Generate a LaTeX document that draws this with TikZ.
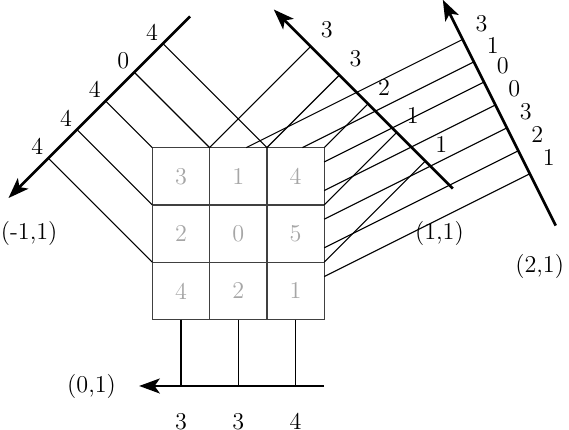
\documentclass[tikz,border=0pt]{standalone}
\usetikzlibrary{arrows.meta}
\tikzset{
	gridline/.style={black!75, line width=0.6pt},
	projline/.style={black, line width=0.55pt},
	projaxis/.style={black, line width=1.3pt, -{Stealth[length=3.6mm, width=2.6mm, inset=0.9mm]}},
	cellval/.style={black!35, font=\large},
	projval/.style={black, font=\large},
}
\begin{document}
\begin{tikzpicture}
		\useasboundingbox (-2.658, -1.911) rectangle (7.272, 5.576);
		\pgfmathsetmacro{\ma}{4.63}
		\pgfmathsetmacro{\pa}{7.53}
		\pgfmathsetmacro{\qa}{15.72}
		% grid with its values
		\draw[gridline] (0, 0) grid (3, 3);
		\foreach \v [count=\i from 0] in {4, 2, 1, 2, 0, 5, 3, 1, 4} {
			\pgfmathtruncatemacro{\cx}{mod(\i, 3)}
			\pgfmathtruncatemacro{\ry}{div(\i, 3)}
			\node[cellval] (v\i) at (\cx+0.5, \ry+0.5) {\v};
		}
		% direction (-1,1)
		\foreach \sx/\sy/\lab [count=\k] in {2/3/4, 1/3/0, 0/3/4, 0/2/4, 0/1/4} {
			\pgfmathsetmacro{\cc}{\sx+\sy}
			\coordinate (ms\k) at (\sx, \sy);
			\coordinate (me\k) at ({(\cc-\ma)/2}, {(\cc+\ma)/2});
			\draw[projline] (ms\k) -- (me\k);
			\node[projval] (ml\k) at ([shift={(-0.19, 0.2)}]me\k) {\lab};
		}
		\coordinate (mtop) at (0.66, 5.29);
		\coordinate (mtip) at (-2.51, 2.12);
		\draw[projaxis] (mtop) -- (mtip);
		\node[projval] (mname) at (-2.15, 1.50) {(-1,1)};
		% direction (0,1)
		\foreach \sx/\lab [count=\k] in {0.5/3, 1.5/3, 2.5/4} {
			\coordinate (vs\k) at (\sx, 0);
			\coordinate (ve\k) at (\sx, -1.16);
			\draw[projline] (vs\k) -- (ve\k);
			\node[projval] (vl\k) at (\sx, -1.78) {\lab};
		}
		\coordinate (vtop) at (3, -1.16);
		\coordinate (vtip) at (-0.23, -1.16);
		\draw[projaxis] (vtop) -- (vtip);
		\node[projval] (vname) at (-1.06, -1.17) {(0,1)};
		% direction (1,1)
		\foreach \sx/\sy/\lab [count=\k] in {1/3/3, 2/3/3, 3/3/2, 3/2/1, 3/1/1} {
			\pgfmathsetmacro{\dd}{\sx-\sy}
			\coordinate (ps\k) at (\sx, \sy);
			\coordinate (pe\k) at ({(\pa+\dd)/2}, {(\pa-\dd)/2});
			\draw[projline] (ps\k) -- (pe\k);
			\node[projval] (pl\k) at ([shift={(0.28, 0.29)}]pe\k) {\lab};
		}
		\coordinate (ptop) at (5.245, 2.285);
		\coordinate (ptip) at (2.12, 5.41);
		\draw[projaxis] (ptop) -- (ptip);
		\node[projval] (pname) at (5.01, 1.50) {(1,1)};
		% direction (2,1)
		\foreach \sx/\sy/\lab [count=\k] in {1.64/3/3, 2.62/3/1, 3/2.75/0, 3/2.25/0, 3/1.75/3, 3/1.25/2, 3/0.75/1} {
			\pgfmathsetmacro{\ee}{\sx-2*\sy}
			\pgfmathsetmacro{\yy}{(\qa-2*\ee)/5}
			\coordinate (qs\k) at (\sx, \sy);
			\coordinate (qe\k) at ({\ee+2*\yy}, \yy);
			\draw[projline] (qs\k) -- (qe\k);
			\node[projval] (ql\k) at ([shift={(0.33, 0.28)}]qe\k) {\lab};
		}
		\coordinate (qtop) at (7.04, 1.64);
		\coordinate (qtip) at (5.07, 5.58);
		\draw[projaxis] (qtop) -- (qtip);
		\node[projval] (qname) at (6.76, 0.93) {(2,1)};
	\end{tikzpicture}
\end{document}
